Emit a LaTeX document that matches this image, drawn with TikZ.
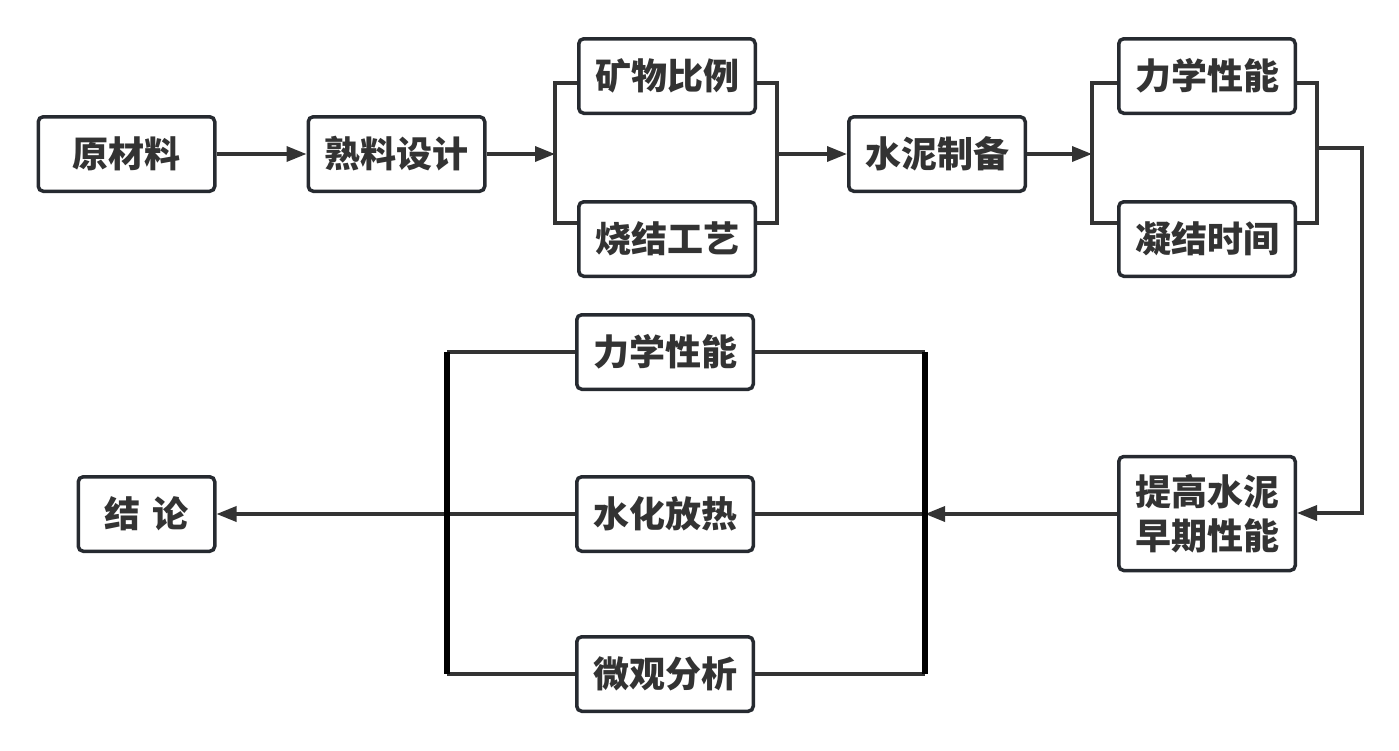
\documentclass[tikz,border=0pt]{standalone}
\usepackage{fontspec}
\newfontfamily\cjk{Noto Sans CJK SC}
\usetikzlibrary{arrows.meta}
\definecolor{boxc}{HTML}{262A30}
\definecolor{linec}{HTML}{333333}
\definecolor{textc}{HTML}{333333}
\begin{document}
\begin{tikzpicture}[x=1pt,y=-1pt,
  box/.style={draw=boxc, line width=3.5pt, rounded corners=5pt, fill=white,
    minimum width=176.5pt, minimum height=74.5pt, inner sep=0pt, align=center,
    text=textc, font=\cjk\bfseries\fontsize{36}{44}\selectfont},
  conn/.style={draw=linec, line width=3.4pt},
  arr/.style={conn, -{Triangle[length=20pt,width=15pt]}},
  thick bar/.style={draw=black, line width=6.5pt}]
\useasboundingbox (0,0) rectangle (1399,750);
% top row
\node[box] (ycl) at (126.5,154) {原材料};
\node[box] (slsj) at (396.5,154) {熟料设计};
\node[box] (kwbl) at (667,76) {矿物比例};
\node[box] (sjgy) at (667,239) {烧结工艺};
\node[box] (snzb) at (937,154) {水泥制备};
\node[box] (lxxna) at (1207,76) {力学性能};
\node[box] (njsj) at (1207,239) {凝结时间};
\node[box, minimum height=114pt] (tg) at (1207,513.5) {提高水泥\\早期性能};
% bottom group
\node[box] (lxxnb) at (665,352) {力学性能};
\node[box] (shfr) at (665,514) {水化放热};
\node[box] (wgfx) at (665,674) {微观分析};
\node[box, minimum width=136.5pt] (jl) at (146.5,514) {结\hspace{0.36em}论};
% coordinates
\coordinate (b1t) at (555,83);
\coordinate (b1b) at (555,223);
\coordinate (b1m) at (555,154);
\coordinate (b2t) at (777,83);
\coordinate (b2b) at (777,223);
\coordinate (b2m) at (777,154);
\coordinate (b3t) at (1092,83);
\coordinate (b3b) at (1092,223);
\coordinate (b3m) at (1092,154);
\coordinate (b4t) at (1317,83);
\coordinate (b4b) at (1317,223);
\coordinate (b4m) at (1317,148);
\coordinate (c1) at (1362,148);
\coordinate (c2) at (1362,513);
\coordinate (lt) at (447,352);
\coordinate (lm) at (447,514);
\coordinate (lb) at (447,674);
\coordinate (rt) at (925,352);
\coordinate (rm) at (925,514);
\coordinate (rb) at (925,674);
% connectors top
\draw[arr] (ycl.east) -- (slsj.west);
\draw[arr] (slsj.east) -- (b1m);
\draw[conn] (kwbl.west |- b1t) -- (b1t) -- (b1b) -- (sjgy.west |- b1b);
\draw[conn] (kwbl.east |- b2t) -- (b2t) -- (b2b) -- (sjgy.east |- b2b);
\draw[arr] (b2m) -- (snzb.west);
\draw[arr] (snzb.east) -- (b3m);
\draw[conn] (lxxna.west |- b3t) -- (b3t) -- (b3b) -- (njsj.west |- b3b);
\draw[conn] (lxxna.east |- b4t) -- (b4t) -- (b4b) -- (njsj.east |- b4b);
\draw[arr] (b4m) -- (c1) -- (c2) -- (tg.east |- c2);
% bottom
\draw[conn] (lt) -- (lxxnb.west);
\draw[conn] (lm) -- (shfr.west);
\draw[conn] (lb) -- (wgfx.west);
\draw[conn] (lxxnb.east) -- (rt);
\draw[conn] (shfr.east) -- (rm);
\draw[conn] (wgfx.east) -- (rb);
\draw[arr] (tg.west |- rm) -- (rm);
\draw[arr] (lm) -- (jl.east);
\draw[thick bar] (lt) -- (lb);
\draw[thick bar] (rt) -- (rb);
\end{tikzpicture}
\end{document}
